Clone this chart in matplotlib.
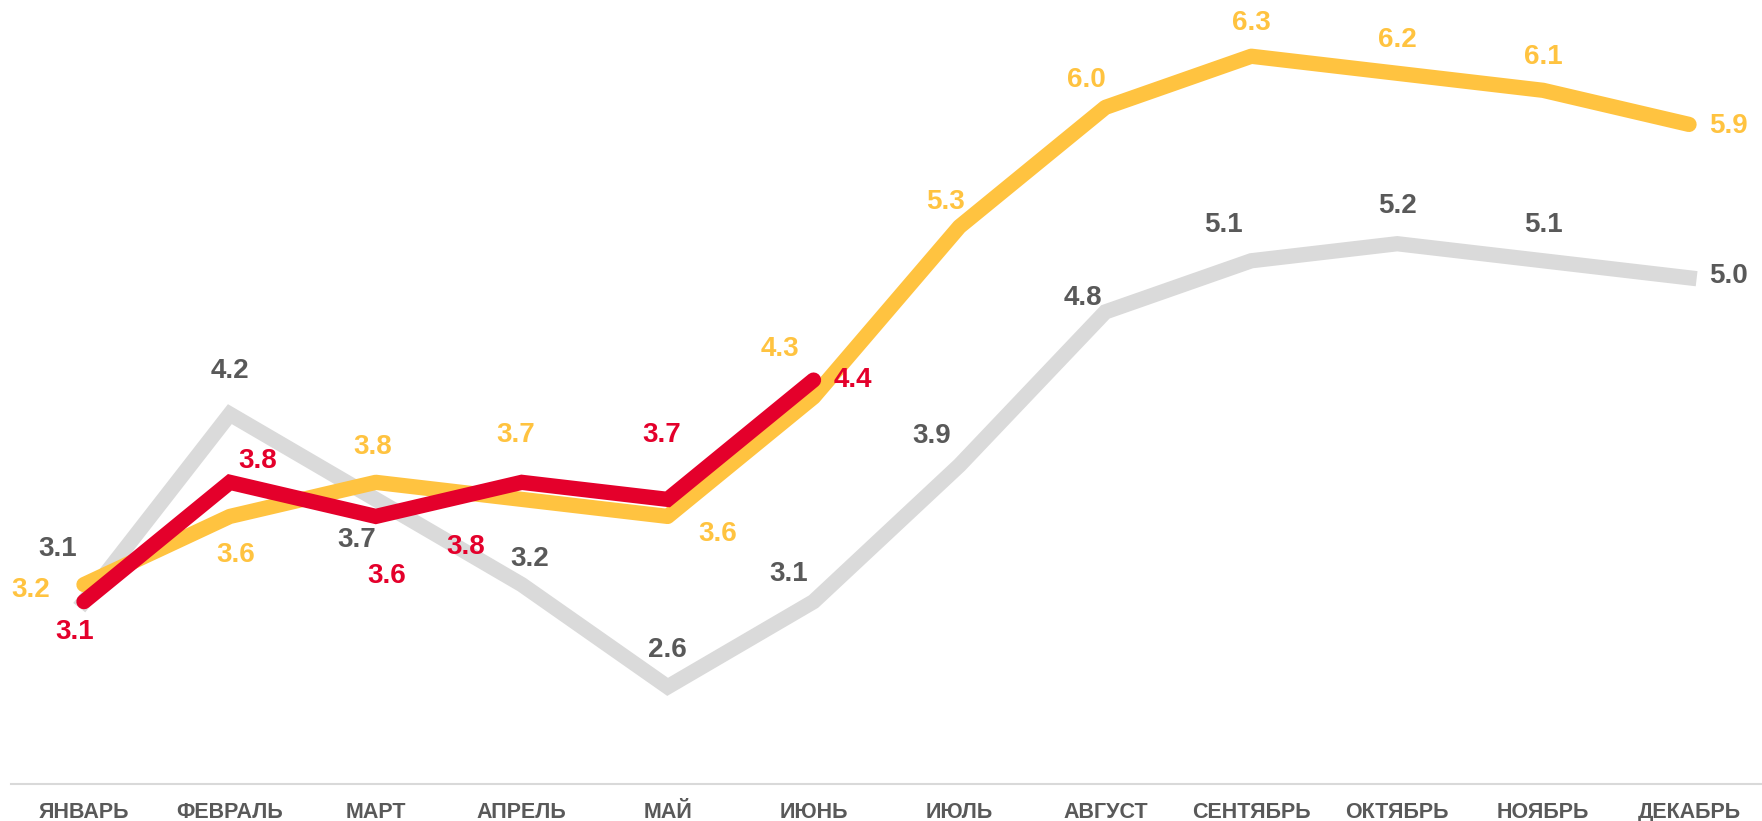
import matplotlib
matplotlib.use('Agg')
import matplotlib.pyplot as plt
import numpy as np

#1. Data
#==========================================================
months = ['ЯНВАРЬ', 'ФЕВРАЛЬ', 'МАРТ', 'АПРЕЛЬ', 'МАЙ', 'ИЮНЬ',
          'ИЮЛЬ', 'АВГУСТ', 'СЕНТЯБРЬ', 'ОКТЯБРЬ', 'НОЯБРЬ', 'ДЕКАБРЬ']
gray_vals = [3.1, 4.2, 3.7, 3.2, 2.6, 3.1, 3.9, 4.8, 5.1, 5.2, 5.1, 5.0]
yellow_vals = [3.2, 3.6, 3.8, 3.7, 3.6, 4.3, 5.3, 6.0, 6.3, 6.2, 6.1, 5.9]
red_vals = [3.1, 3.8, 3.6, 3.8, 3.7, 4.4]

# label offsets (screen px of the reference, y down)
gray_off = [(-23, -47), (0, -38), (-17, 36), (7, -23), (0, -33), (-22, -25),
            (-25, -26), (-20, -12), (-25, -32), (0, -34), (0, -32), (35, -2)]
yellow_off = [(-47, 5), (5, 34), (-3, -31), (-5, -57), (45, 16), (-30, -43),
              (-12, -22), (-17, -24), (0, -30), (0, -30), (0, -30), (35, 1)]
red_off = [(-8, 27), (25, -19), (10, 53), (-50, 58), (-5, -57), (35, 0)]

GRAY_LINE = '#DADADA'
GRAY_TEXT = '#595959'
YELLOW = '#FFC340'
RED = '#E4002B'

#2. Plot
#==========================================================
plt.rcParams['font.family'] = ['Liberation Sans', 'DejaVu Sans']

fig = plt.figure(figsize=(17.62, 8.21), dpi=100)
ax = fig.add_axes([11 / 1762, 37 / 821, 1 - 11 / 1762, 1 - 37 / 821])

x = np.arange(len(months))
ax.plot(x, gray_vals, color=GRAY_LINE, lw=11, solid_joinstyle='miter', zorder=1)
ax.plot(x, yellow_vals, color=YELLOW, lw=11, solid_capstyle='round', zorder=2)
ax.plot(x[:len(red_vals)], red_vals, color=RED, lw=11,
        solid_capstyle='round', solid_joinstyle='miter', zorder=3)

k = 0.809  # reference px -> points
for vals, offs, col in [(gray_vals, gray_off, GRAY_TEXT),
                        (yellow_vals, yellow_off, YELLOW),
                        (red_vals, red_off, RED)]:
    for i, (v, (dx, dy)) in enumerate(zip(vals, offs)):
        ax.annotate(f'{v:.1f}', (i, v), xytext=(dx * k, -dy * k),
                    textcoords='offset points', ha='center', va='center',
                    fontsize=20, fontweight='bold', color=col, zorder=5)

ax.set_xlim(-0.5, 11.5)
ax.set_ylim(2.03, 6.63)
ax.set_yticks([])
ax.set_xticks(x)
ax.set_xticklabels(months, fontsize=15.5, fontweight='bold', color=GRAY_TEXT)
ax.tick_params(axis='x', length=0, pad=13)
for s in ['top', 'right', 'left']:
    ax.spines[s].set_visible(False)
ax.spines['bottom'].set_color('#D9D9D9')
ax.spines['bottom'].set_linewidth(1.5)

plt.savefig('out.png', dpi=100)
